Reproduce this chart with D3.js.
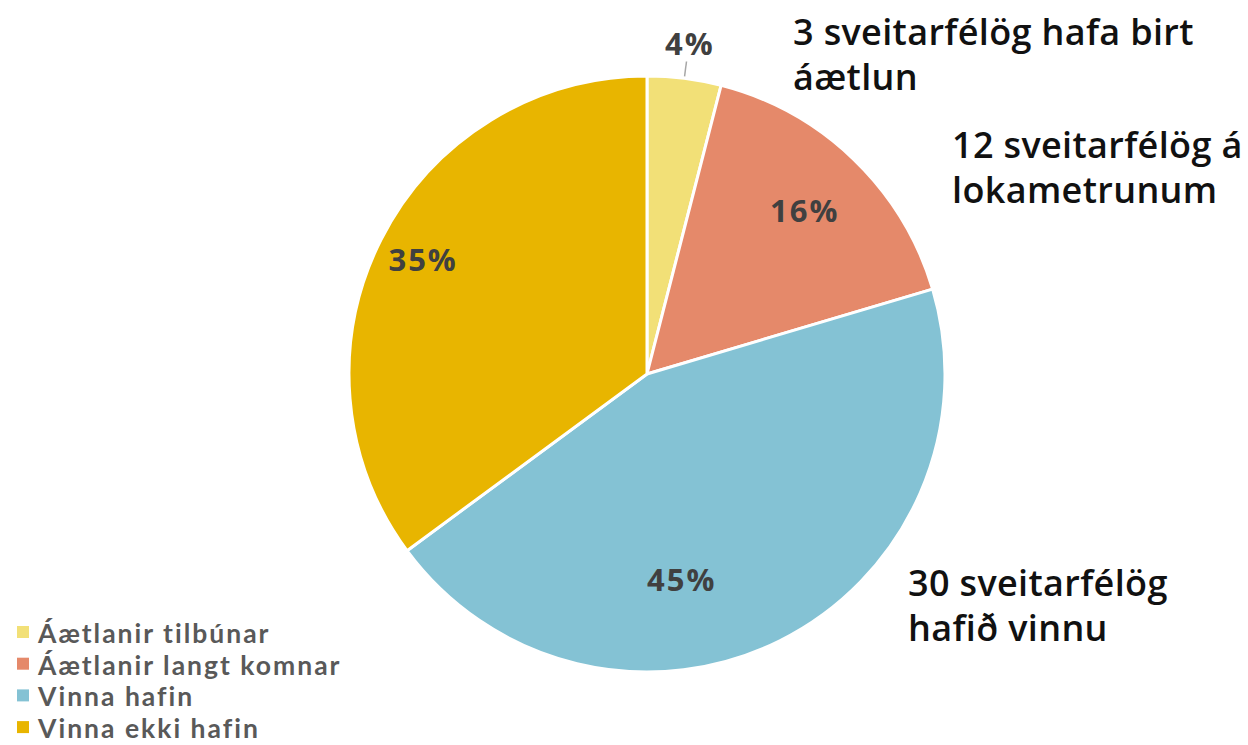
<!DOCTYPE html>
<html><head><meta charset="utf-8">
<script src="https://cdn.jsdelivr.net/npm/d3@7"></script>
<style>
body{margin:0;background:#fff;}
svg{display:block;}
</style></head>
<body>
<svg id="c" width="1248" height="745"></svg>
<script>
const categories = ["Áætlanir tilbúnar","Áætlanir langt komnar","Vinna hafin","Vinna ekki hafin"];
const values = [4.0, 16.4, 44.5, 35.1];
const pctLabels = ["4%","16%","45%","35%"];
const colors = ["#F2E077","#E5896A","#84C2D4","#E8B500"];
const notes = [["3 sveitarfélög hafa birt","áætlun"],["12 sveitarfélög á","lokametrunum"],["30 sveitarfélög","hafið vinnu"]];

const svg = d3.select("#c");
const cx = 647, cy = 374, R = 298;
const font = "'Open Sans', sans-serif";

const pie = d3.pie().sort(null).value(d=>d)(values);
const arc = d3.arc().innerRadius(0).outerRadius(R);
const g = svg.append("g").attr("transform",`translate(${cx},${cy})`);
g.selectAll("path").data(pie).join("path")
  .attr("d",arc).attr("fill",(d,i)=>colors[i])
  .attr("stroke","#fff").attr("stroke-width",3).attr("stroke-linejoin","round");

const labR = [333, 226, 209, 252];
const labShift = [0, 0, 0.30, 0];
pie.forEach((d,i)=>{
  const a = (d.startAngle+d.endAngle)/2 + labShift[i];
  const x = Math.sin(a)*labR[i], y = -Math.cos(a)*labR[i];
  g.append("text").attr("x",x+1).attr("y",y).attr("dy","0.36em")
   .attr("text-anchor","middle").attr("font-family",font).attr("font-weight",700)
   .attr("font-size",31).attr("letter-spacing",2).attr("fill","#404040").text(pctLabels[i]);
  if(i===0){
    g.append("line").attr("x1",Math.sin(a)*300).attr("y1",-Math.cos(a)*300)
     .attr("x2",Math.sin(a)*315).attr("y2",-Math.cos(a)*315)
     .attr("stroke","#a6a6a6").attr("stroke-width",1.5);
  }
});

const notePos = [[793,45],[952,158],[908,596]];
notes.forEach((lines,i)=>{
  const t = svg.append("text").attr("x",notePos[i][0]).attr("y",notePos[i][1])
    .attr("font-family",font).attr("font-weight",600).attr("font-size",36)
    .attr("letter-spacing",0.35).attr("fill","#111");
  lines.forEach((s,j)=>t.append("tspan").attr("x",notePos[i][0]).attr("dy",j?45:0).text(s));
});

const lg = svg.append("g");
categories.forEach((c,i)=>{
  const y = 643 + i*31.7;
  lg.append("rect").attr("x",17).attr("y",y-17).attr("width",12).attr("height",12).attr("fill",colors[i]);
  lg.append("text").attr("x",38).attr("y",y).attr("font-family","Lato, sans-serif").attr("font-weight",700)
    .attr("font-size",26.5).attr("letter-spacing",2.0).attr("fill","#595959").text(c);
});
</script>
</body></html>
